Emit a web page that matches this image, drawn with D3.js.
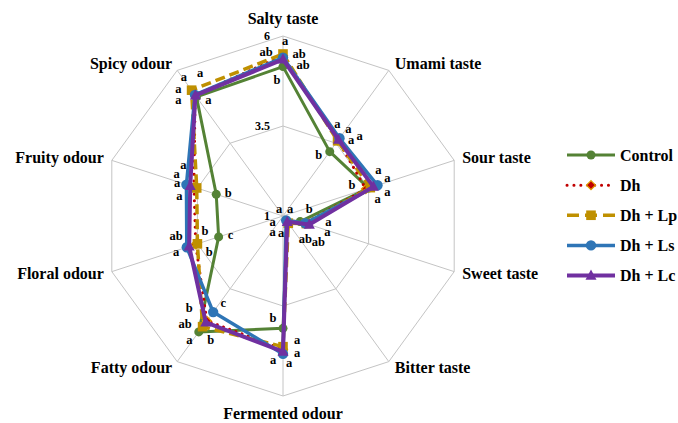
<!DOCTYPE html>
<html>
<head>
<meta charset="utf-8">
<script src="https://cdn.jsdelivr.net/npm/d3@7"></script>
<style>
  body { margin: 0; background: #fff; }
  text { font-family: "Liberation Serif", "Times New Roman", serif; font-weight: bold; fill: #000; }
</style>
</head>
<body>
<svg id="chart" width="678" height="423"></svg>
<script>
// ---- data ----
const categories = ["Salty taste", "Umami taste", "Sour taste", "Sweet taste", "Bitter taste",
  "Fermented odour", "Fatty odour", "Floral odour", "Fruity odour", "Spicy odour"];
const tickValues = [1, 3.5, 6];
const seriesNames = ["Control", "Dh", "Dh + Lp", "Dh + Ls", "Dh + Lc"];

const control = [5.15, 3.21, 3.50, 1.50, 1.20, 4.12, 4.98, 2.88, 2.95, 5.09];
const dh      = [5.45, 3.60, 3.42, 1.65, 1.20, 4.70, 4.60, 3.55, 3.60, 5.15];
const dhLp    = [5.50, 3.58, 3.55, 1.68, 1.25, 4.63, 4.80, 3.50, 3.52, 5.32];
const dhLs    = [5.40, 3.67, 3.76, 1.65, 1.15, 4.83, 4.30, 3.81, 3.82, 5.16];
const dhLc    = [5.35, 3.62, 3.64, 1.77, 1.20, 4.77, 4.65, 3.74, 3.71, 5.14];

// significance letters, one per attribute
const lettersControl = ["b", "b", "a", "b", "a", "b", "a", "c", "b", "a"];
const lettersDh      = ["ab", "a", "b", "ab", "a", "a", "b", "b", "a", "a"];
const lettersDhLp    = ["a", "a", "a", "ab", "a", "a", "ab", "b", "a", "a"];
const lettersDhLs    = ["ab", "a", "a", "a", "a", "a", "c", "ab", "a", "a"];
const lettersDhLc    = ["ab", "a", "a", "a", "a", "a", "b", "a", "a", "a"];

// ---- layout ----
const cx = 283, cy = 216, R = 180;
const svg = d3.select("#chart");

const r = d3.scaleLinear().domain([1, 6]).range([0, R]);
const angle = d3.scaleLinear().domain([0, categories.length]).range([0, 2 * Math.PI]);
const pt = (i, v) => [cx + r(v) * Math.sin(angle(i)), cy - r(v) * Math.cos(angle(i))];

const styles = [
  { values: control, letters: lettersControl, color: "#548235", width: 3, dash: null, marker: "circle", size: 4.5 },
  { values: dh, letters: lettersDh, color: "#C00000", width: 3, dash: "0.1,6.5", marker: "diamond", size: 4.5 },
  { values: dhLp, letters: lettersDhLp, color: "#BF9000", width: 3.5, dash: "10,5", marker: "square", size: 4.8 },
  { values: dhLs, letters: lettersDhLs, color: "#2E75B6", width: 3.5, dash: null, marker: "circle", size: 5.2 },
  { values: dhLc, letters: lettersDhLc, color: "#7030A0", width: 4, dash: null, marker: "triangle", size: 5.5 }
];

// letter offsets from each series' point, per attribute
const letterOffsets = [
  [[-6, 13], [-11, 3], [9, 11], [9, -13], [-8, -12.5], [-10, -10], [-9.5, 8], [12, -2], [12, -1], [12, 3]],
  [[-17, -3.5], [13, 0], [-14, -4], [0, 16], [-14.5, 10], [14, 4], [-17.5, -12.6], [13.6, 7.3], [-17.3, -13], [5, -22.4]],
  [[2, -13], [22, -5], [17, 4], [12, 18], [-15.6, -1.6], [14, -7], [-17.6, -2.7], [7.6, -13], [-13.4, -23], [-7.6, -13.5]],
  [[16, -4], [-2, -14], [1, -15], [22, 8.5], [4, -11], [6, 9], [10, -9], [-10.7, -11.3], [-7, 11.4], [-16.6, -5.5]],
  [[20, 6], [10, -11], [14, -9], [19, -3], [-6, 11], [-10, 8], [5, 17.7], [-13, 6], [-13, -2.5], [-17, 4.5]]
];

// axis label placement relative to the outer vertex: [dx, dy, anchor]
const axisLabelPos = [
  [0, -18, "middle"], [6, -7, "start"], [8, -3, "start"], [8, 1.5, "start"], [6, 6, "start"],
  [0, 17, "middle"], [-5, 6, "end"], [-8, 1.5, "end"], [-8, -3, "end"], [-5, -7, "end"]
];

// ---- grid ----
const grid = svg.append("g");
const ringLine = d3.line();
tickValues.filter(t => t > 1).forEach(t => {
  const pts = categories.map((c, i) => pt(i, t));
  grid.append("path")
    .attr("d", ringLine(pts) + "Z")
    .attr("fill", "none").attr("stroke", "#c4c4c4").attr("stroke-width", 1);
});
categories.forEach((c, i) => {
  const [x, y] = pt(i, 6);
  grid.append("line").attr("x1", cx).attr("y1", cy).attr("x2", x).attr("y2", y)
    .attr("stroke", "#c4c4c4").attr("stroke-width", 1);
});

// tick labels along the top axis
tickValues.forEach(t => {
  const [x, y] = pt(0, t);
  svg.append("text").attr("x", x - 13).attr("y", y - 0.5)
    .attr("text-anchor", "end").attr("dominant-baseline", "central")
    .style("font-size", "12px").text(t);
});

// axis labels
categories.forEach((c, i) => {
  const [x, y] = pt(i, 6);
  const [dx, dy, anchor] = axisLabelPos[i];
  svg.append("text").attr("x", x + dx).attr("y", y + dy)
    .attr("text-anchor", anchor).attr("dominant-baseline", "central")
    .style("font-size", "16px").text(c);
});

// ---- markers ----
function drawMarker(g, type, x, y, s, color) {
  if (type === "circle") {
    g.append("circle").attr("cx", x).attr("cy", y).attr("r", s).attr("fill", color);
  } else if (type === "square") {
    g.append("rect").attr("x", x - s).attr("y", y - s).attr("width", 2 * s).attr("height", 2 * s).attr("fill", color);
  } else if (type === "triangle") {
    g.append("path").attr("d", `M${x},${y - s * 1.1}L${x + s},${y + s * 0.75}L${x - s},${y + s * 0.75}Z`).attr("fill", color);
  } else if (type === "diamond") {
    g.append("path").attr("d", `M${x},${y - s}L${x + s},${y}L${x},${y + s}L${x - s},${y}Z`)
      .attr("fill", color).attr("stroke", "#E0A000").attr("stroke-width", 1.2);
  }
}

// ---- series ----
const radial = d3.lineRadial()
  .angle((d, i) => angle(i))
  .radius(d => r(d))
  .curve(d3.curveLinearClosed);

const isDotted = s => s.dash && s.dash.startsWith("0.1");

const plot = svg.append("g");
styles.forEach(s => {
  const g = plot.append("g");
  g.append("path")
    .attr("transform", `translate(${cx},${cy})`)
    .attr("d", radial(s.values))
    .attr("fill", "none")
    .attr("stroke", s.color)
    .attr("stroke-width", s.width)
    .attr("stroke-linejoin", "round")
    .attr("stroke-linecap", isDotted(s) ? "round" : "butt")
    .attr("stroke-dasharray", s.dash);
  s.values.forEach((v, i) => {
    const [x, y] = pt(i, v);
    drawMarker(g, s.marker, x, y, s.size, s.color);
  });
});

// significance letters
styles.forEach((s, si) => {
  s.values.forEach((v, i) => {
    const [x, y] = pt(i, v);
    const [dx, dy] = letterOffsets[si][i];
    svg.append("text").attr("x", x + dx).attr("y", y + dy)
      .attr("text-anchor", "middle").attr("dominant-baseline", "central")
      .style("font-size", "12.5px").text(s.letters[i]);
  });
});

// ---- legend ----
const legend = svg.append("g");
const legendX0 = 567, legendX1 = 615;
const legendY = d3.scaleLinear().domain([0, 4]).range([155, 275.5]);
styles.forEach((s, i) => {
  const y = legendY(i);
  legend.append("line").attr("x1", legendX0).attr("x2", legendX1).attr("y1", y).attr("y2", y)
    .attr("stroke", s.color).attr("stroke-width", s.width)
    .attr("stroke-linecap", isDotted(s) ? "round" : "butt")
    .attr("stroke-dasharray", s.dash ? (isDotted(s) ? "0.1,6.8" : "12,6") : null);
  drawMarker(legend, s.marker, (legendX0 + legendX1) / 2, y, s.size, s.color);
  legend.append("text").attr("x", 620).attr("y", y)
    .attr("dominant-baseline", "central").style("font-size", "16px").text(seriesNames[i]);
});
</script>
</body>
</html>
